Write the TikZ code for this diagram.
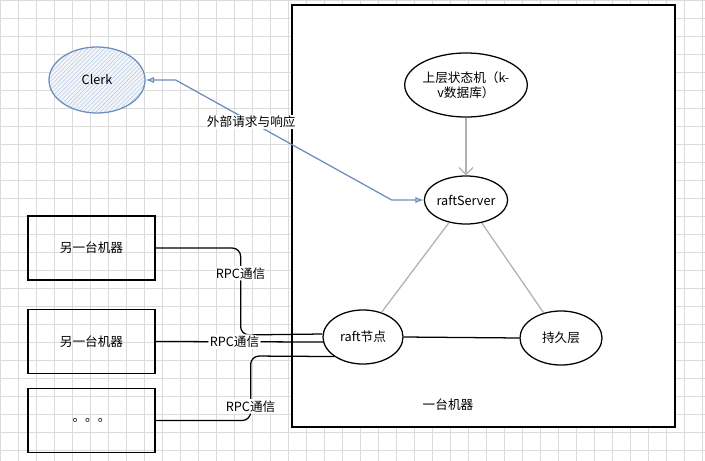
\documentclass[tikz,border=0pt]{standalone}
\usepackage{fontspec}
\setmainfont{Noto Sans CJK SC}
\usepackage{xcolor}
\usetikzlibrary{arrows.meta,calc,shapes.geometric,patterns}
\definecolor{linkblue}{HTML}{6C8EBF}

\begin{document}
\begin{tikzpicture}[x=0.025cm,y=-0.025cm,line width=0.9pt,
                    every node/.style={font=\small},
                    part node/.style={ellipse,draw,inner sep=0pt},
                    box node/.style={rectangle,draw,minimum width=3.175cm,minimum height=1.6cm},
                    lbl/.style={fill=white,text=black,inner sep=1pt},
                    grey link/.style={draw=black!30},
                    rpc link/.style={draw,rounded corners=6pt}]

% canvas
\useasboundingbox (0,0) rectangle (705,461);
\draw[black!14,line width=0.4pt,step=0.45cm] (0,461) grid (705,0);
\draw[fill=white] (292,5) rectangle (675,427);

\node[part node,minimum width=2.4cm,minimum height=1.65cm,draw=linkblue,
      preaction={fill=linkblue!8},pattern=north east lines,pattern color=linkblue!45] (clerk) at (97,80) {Clerk};
\node[part node,minimum width=2.45cm,minimum height=1.6cm,align=center] (sm) at (466,85) {上层状态机（k-\\v数据库）};
\node[part node,minimum width=2cm,minimum height=1.2cm] (srv) at (466,200) {raftServer};
\node[part node,minimum width=2cm,minimum height=1.35cm] (raft) at (363,337) {raft节点};
\node[part node,minimum width=2.05cm,minimum height=1.35cm] (disk) at (561,338) {持久层};
\node (host) at (448,405) {一台机器};

\node[box node] (m1) at (91.5,248) {另一台机器};
\node[box node] (m2) at (91.5,341.5) {另一台机器};
\node[box node] (m3) at (91.5,420.5) {。。。};

% client request / response
\draw[linkblue,{Latex[open,length=6pt]}-{Latex[open,length=6pt]}]
    (clerk.east) -- ++(30,0) -- node[lbl,pos=0.35] {外部请求与响应} ($(srv.west)+(-32,0)$) -- (srv.west);

\draw[grey link,-{Straight Barb[length=5pt]}] (sm.south) -- (srv.north);
\draw[grey link] (srv) -- (raft);
\draw[grey link] (srv) -- (disk);
\draw (raft.east) -- (disk.west);

% RPC links
\draw[rpc link] (m1.east) -- ++(85,0) -- node[lbl,pos=0.29] {RPC通信} ++(0,87) -- ($(raft.west)+(0,-3)$);
\draw[rpc link] (m2.east) -- node[lbl,pos=0.47] {RPC通信} ($(raft.west)+(1,5)$);
\draw[rpc link] (m3.east) -- ++(95,0) -- node[lbl,pos=0.22] {RPC通信} ++(0,-64.5) -- (raft.south west);

\end{tikzpicture}
\end{document}
